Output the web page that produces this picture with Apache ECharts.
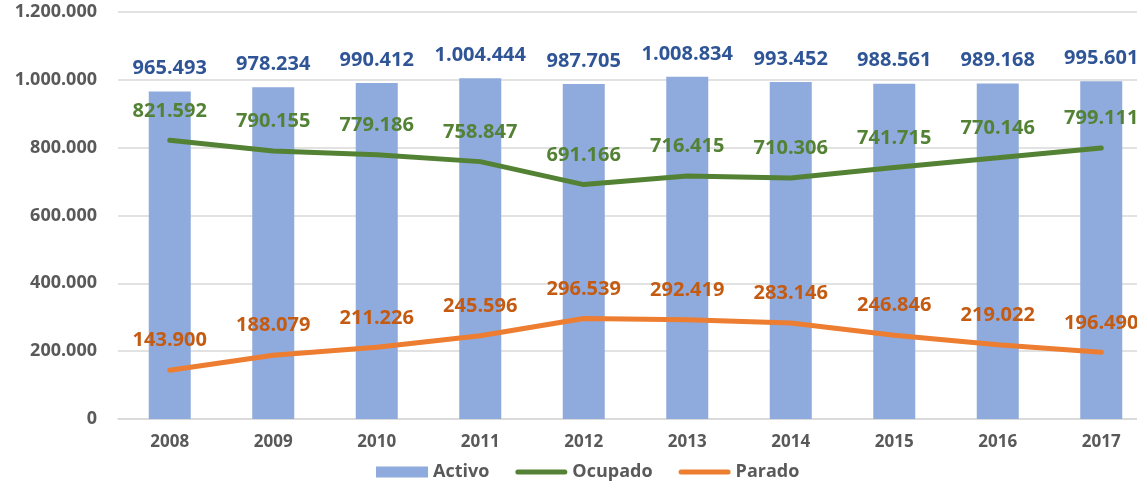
<!DOCTYPE html>
<html>
<head>
<meta charset="utf-8">
<script src="https://cdn.jsdelivr.net/npm/echarts@6/dist/echarts.min.js"></script>
<style>
html,body{margin:0;padding:0;background:#fff;overflow:hidden;}
#chart{width:1153px;height:484px;}
</style>
</head>
<body>
<div id="chart"></div>
<script>
var years   = ['2008','2009','2010','2011','2012','2013','2014','2015','2016','2017'];
var activo  = [965493, 978234, 990412, 1004444, 987705, 1008834, 993452, 988561, 989168, 995601];
var ocupado = [821592, 790155, 779186, 758847, 691166, 716415, 710306, 741715, 770146, 799111];
var parado  = [143900, 188079, 211226, 245596, 296539, 292419, 283146, 246846, 219022, 196490];

var FONT = '"Open Sans", "Liberation Sans", sans-serif';
var LINE_ICON = 'path://M2.5,0 L49.5,0 A2.5,2.5 0 0 1 49.5,5 L2.5,5 A2.5,2.5 0 0 1 2.5,0 Z';

// separador de miles con punto
function fmt(v){
	return String(v).replace(/\B(?=(\d{3})+(?!\d))/g, '.');
}

function dataLabel(color, dist){
	return {
		show:true,
		position:'top',
		distance:dist,
		fontFamily:FONT,
		fontSize:20,
		fontWeight:'bold',
		color:color,
		formatter:function(p){ return fmt(p.value); }
	};
}

// el área del gráfico se sale por la derecha, como en el original
var myChart = echarts.init(document.getElementById('chart'));
var option = {
	backgroundColor:'#ffffff',
	animation:false,
	grid:{
		left:118,
		top:12,
		right:0,
		bottom:65
	},
	legend:{
		left:371,
		top:458,
		itemGap:26,
		itemWidth:52,
		itemHeight:11,
		textStyle:{
			fontFamily:FONT,
			fontSize:18,
			fontWeight:'bold',
			color:'#595959'
		},
		data:[
			{name:'Activo', icon:'rect'},
			{name:'Ocupado', icon:LINE_ICON},
			{name:'Parado', icon:LINE_ICON}
		]
	},
	xAxis:{
		type:'category',
		data:years,
		axisTick:{show:false},
		axisLine:{lineStyle:{color:'#d9d9d9', width:1.5}},
		axisLabel:{
			margin:15,
			fontFamily:FONT,
			fontSize:17,
			fontWeight:'bold',
			color:'#595959'
		}
	},
	yAxis:{
		type:'value',
		min:0,
		max:1200000,
		interval:200000,
		axisLine:{show:false},
		axisTick:{show:false},
		splitLine:{lineStyle:{color:'#d9d9d9', width:1.5}},
		axisLabel:{
			margin:21,
			fontFamily:FONT,
			fontSize:18,
			fontWeight:'bold',
			color:'#595959',
			formatter:function(v){ return fmt(v); }
		}
	},
	series:[
		{
			name:'Activo',
			type:'bar',
			barWidth:42,
			data:activo,
			itemStyle:{color:'#8faadc'},
			label:dataLabel('#2f5597', 13)
		},
		{
			name:'Ocupado',
			type:'line',
			data:ocupado,
			symbol:'circle',
			symbolSize:1,
			lineStyle:{color:'#548235', width:5, cap:'round'},
			itemStyle:{color:'#548235'},
			label:dataLabel('#548235', 19)
		},
		{
			name:'Parado',
			type:'line',
			data:parado,
			symbol:'circle',
			symbolSize:1,
			lineStyle:{color:'#ed7d31', width:5, cap:'round'},
			itemStyle:{color:'#ed7d31'},
			label:dataLabel('#c55a11', 19)
		}
	]
};
myChart.setOption(option);
</script>
</body>
</html>
